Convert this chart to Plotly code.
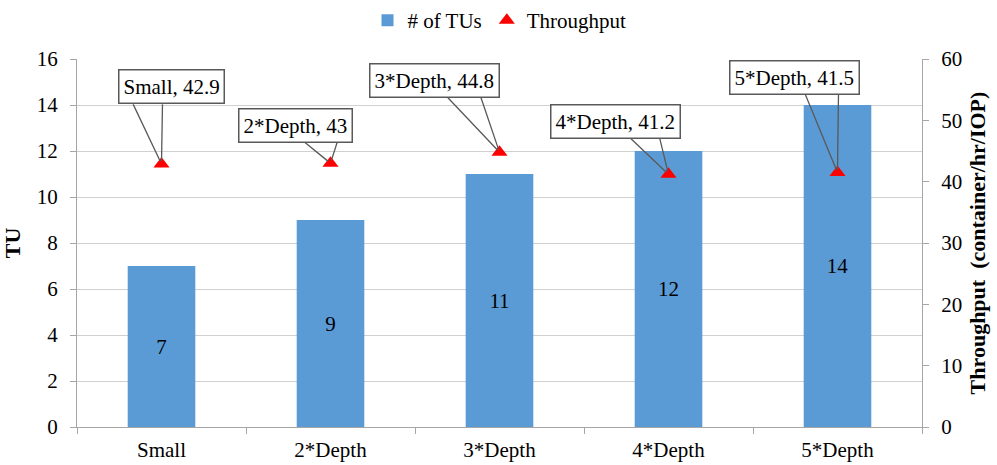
import plotly.graph_objects as go

categories = ["Small", "2*Depth", "3*Depth", "4*Depth", "5*Depth"]
tu_counts = [7, 9, 11, 12, 14]
throughput = [42.9, 43, 44.8, 41.2, 41.5]

# callout layout in px, relative to each throughput marker:
# box centre offset, and the two base points of the callout wedge
box_offset = [(10, -77), (-35, -38), (-65, -72), (-53, -53), (-43, -95)]
wedge_offset = [
    [(-29, -61), (1, -61)],
    [(-27, -22), (7, -22)],
    [(-53, -56), (-19, -56)],
    [(-39, -37), (-9, -37)],
    [(-33, -80), (1, -80)],
]

FONT = "Liberation Serif, Times New Roman, serif"
GRID = "#d0d0d0"
AXIS = "#a6a6a6"
CALLOUT = "#595959"

fig = go.Figure()
fig.add_trace(go.Bar(
    x=categories, y=tu_counts, name="# of TUs",
    marker=dict(color="#5B9BD5", line=dict(width=0)),
    width=0.4,
    text=[str(v) for v in tu_counts], textposition="inside",
    insidetextanchor="middle", textangle=0,
    textfont=dict(family=FONT, size=21, color="black"),
))
fig.add_trace(go.Scatter(
    x=categories, y=throughput, name="Throughput", yaxis="y2",
    mode="markers",
    marker=dict(symbol="triangle-up", color="#FF0000", size=14),
))

for c, v, (bx, by), wedge in zip(categories, throughput, box_offset, wedge_offset):
    # the two sides of the callout pointer
    for wx, wy in wedge:
        fig.add_annotation(
            x=c, y=v, yref="y2", text="",
            showarrow=True, arrowhead=0, arrowwidth=1.3, arrowcolor=CALLOUT,
            ax=wx, ay=wy, standoff=3,
        )
    # the label box itself
    fig.add_annotation(
        x=c, y=v, yref="y2", text=f"{c}, {v:g}",
        showarrow=True, arrowhead=0, arrowwidth=0.1, arrowcolor="rgba(0,0,0,0)",
        ax=bx, ay=by,
        bgcolor="white", bordercolor=CALLOUT, borderwidth=1.5, borderpad=4,
        font=dict(family=FONT, size=21, color="black"),
    )

fig.update_layout(
    width=997, height=465,
    margin=dict(l=77, r=75, t=59, b=38, autoexpand=False),
    paper_bgcolor="white", plot_bgcolor="white",
    font=dict(family=FONT, size=21, color="black"),
    showlegend=True,
    legend=dict(orientation="h", x=0.5, xanchor="center", y=1.0, yanchor="top",
                yref="container", font=dict(family=FONT, size=21),
                itemwidth=30, tracegroupgap=0),
    xaxis=dict(
        type="category", showgrid=False, showline=True, linecolor=AXIS, linewidth=1,
        ticks="outside", tickson="boundaries", ticklen=6, tickcolor=AXIS,
        tickfont=dict(family=FONT, size=21), ticklabelstandoff=4, automargin=False,
    ),
    yaxis=dict(
        range=[0, 16], dtick=2, showgrid=True, gridcolor=GRID, gridwidth=1,
        showline=True, linecolor=AXIS, ticks="outside", ticklen=6, tickcolor=AXIS,
        tickfont=dict(family=FONT, size=21), zeroline=False, ticklabelstandoff=8,
        automargin=False,
        title=dict(text="<b>TU</b>", font=dict(family=FONT, size=22), standoff=10),
    ),
    yaxis2=dict(
        range=[0, 60], dtick=10, overlaying="y", side="right", showgrid=False,
        showline=True, linecolor=AXIS, ticks="outside", ticklen=6, tickcolor=AXIS,
        tickfont=dict(family=FONT, size=21), zeroline=False, ticklabelstandoff=8,
        automargin=False,
        title=dict(text="<b>Throughput  (container/hr/IOP)</b>",
                   font=dict(family=FONT, size=22), standoff=8),
    ),
)

fig.write_html("out.html")
